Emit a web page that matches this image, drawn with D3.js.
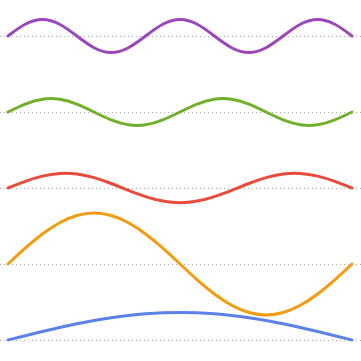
<!DOCTYPE html>
<html>
<head>
<meta charset="utf-8">
<script src="https://cdn.jsdelivr.net/npm/d3@7"></script>
<style>
	html, body { margin: 0; padding: 0; background: #fff; }
	svg { display: block; }
</style>
</head>
<body>
<div id="chart"></div>
<script>
// sample positions along each wave (0 = left end, 1 = right end)
const samples = d3.range(21).map(i => i / 20);

// offsets above each row's baseline (px)
const purpleValues = [0, 11.7, 16.5, 11.7, 0, -11.7, -16.5, -11.7, 0, 11.7, 16.5, 11.7, 0, -11.7, -16.5, -11.7, 0, 11.7, 16.5, 11.7, 0];
const greenValues = [0, 7.9, 12.8, 12.8, 7.9, 0, -7.9, -12.8, -12.8, -7.9, 0, 7.9, 12.8, 12.8, 7.9, 0, -7.9, -12.8, -12.8, -7.9, 0];
const redValues = [0, 6.7, 11.9, 14.5, 14.0, 10.4, 4.5, -2.3, -8.6, -13.1, -14.7, -13.1, -8.6, -2.3, 4.5, 10.4, 14.0, 14.5, 11.9, 6.7, 0];
const orangeValues = [0, 15.8, 30.0, 41.3, 48.5, 51, 48.5, 41.3, 30.0, 15.8, 0, -15.8, -30.0, -41.3, -48.5, -51, -48.5, -41.3, -30.0, -15.8, 0];
const blueValues = [0, 4.3, 8.5, 12.5, 16.2, 19.4, 22.2, 24.5, 26.2, 27.2, 27.5, 27.2, 26.2, 24.5, 22.2, 19.4, 16.2, 12.5, 8.5, 4.3, 0];

const rows = ['purple', 'green', 'red', 'orange', 'blue'];

(function () {
	let width = 361, height = 361;

	let series = [
		{ name: 'purple', values: purpleValues, color: '#9b47b9' },
		{ name: 'green', values: greenValues, color: '#70b02b' },
		{ name: 'red', values: redValues, color: '#e74c3c' },
		{ name: 'orange', values: orangeValues, color: '#f39c12' },
		{ name: 'blue', values: blueValues, color: '#5b82e8' }
	];

	let svg = d3.select('#chart')
		.append('svg')
		.attr('width', width)
		.attr('height', height);

	//Scales
	let xScale = d3.scaleLinear().domain([0, 1]).range([8, 352]);
	let rowScale = d3.scalePoint().domain(rows).range([36, 340]);
	let yOffset = d3.scaleLinear().domain([0, 1]).range([0, -1]);

	//Dotted baselines
	svg.selectAll('line.base')
		.data(rows)
		.enter()
		.append('line')
		.attr('class', 'base')
		.attr('x1', 0)
		.attr('x2', width)
		.attr('y1', d => rowScale(d) + 0.5)
		.attr('y2', d => rowScale(d) + 0.5)
		.style('stroke', '#aaa')
		.style('stroke-width', 1)
		.style('stroke-dasharray', '1,3');

	//Waves
	series.forEach(s => {
		let line = d3.line()
			.x((d, i) => xScale(samples[i]))
			.y(d => rowScale(s.name) + yOffset(d))
			.curve(d3.curveNatural);

		svg.append('path')
			.datum(s.values)
			.attr('d', line)
			.style('fill', 'none')
			.style('stroke', s.color)
			.style('stroke-width', 3)
			.style('stroke-linecap', 'round');
	});
})();
</script>
</body>
</html>
